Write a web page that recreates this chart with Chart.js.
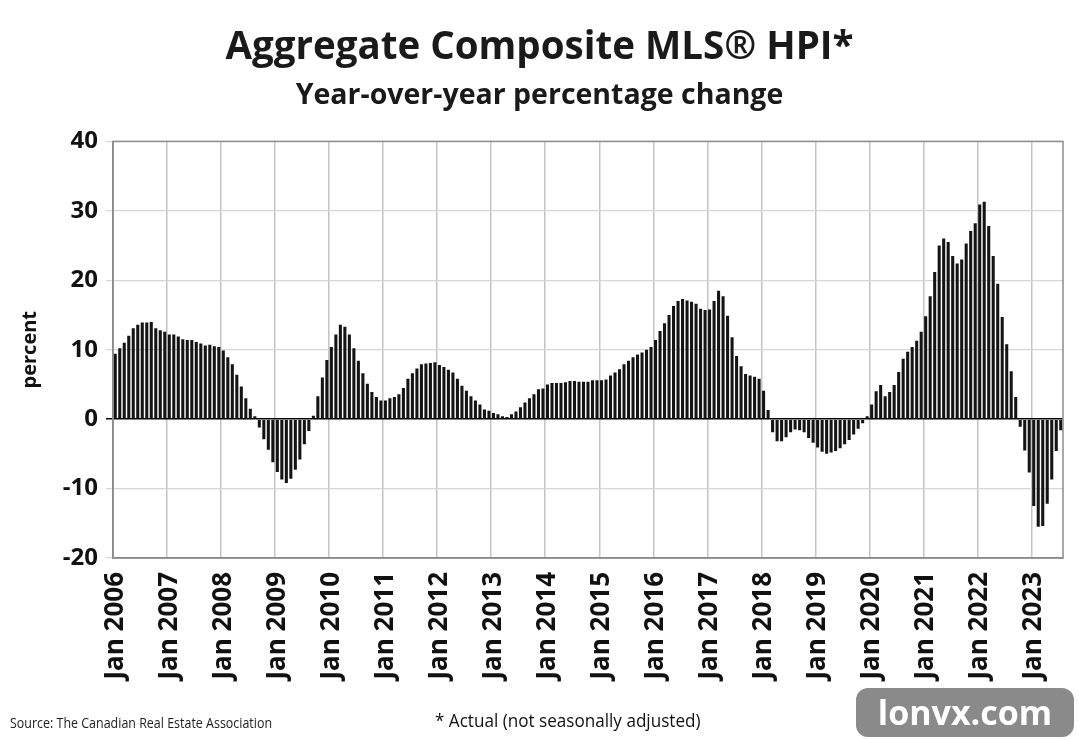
<!DOCTYPE html>
<html>
<head>
<meta charset="utf-8">
<script src="https://cdn.jsdelivr.net/npm/chart.js@4.4.1/dist/chart.umd.min.js"></script>
<style>
  html, body { margin: 0; padding: 0; background: #fff; }
  #wrap { position: relative; width: 1079px; height: 740px; }
  #source { position: absolute; left: 10px; top: 713px; font: 14px "Open Sans", "Noto Sans", sans-serif; color: #222;
            transform: scaleX(0.89); transform-origin: left top; white-space: nowrap; }
  #note { position: absolute; left: 435px; top: 707px; font: 19px "Open Sans", "Noto Sans", sans-serif; color: #111;
          transform: scaleX(0.9); transform-origin: left top; white-space: nowrap; }
  #mark { position: absolute; left: 856px; top: 688px; width: 218px; height: 49px; border-radius: 12px;
          background: #8a8a8a; color: #fff; font: bold 34px "Open Sans", sans-serif;
          text-align: center; line-height: 49px; }
</style>
</head>
<body>
<div id="wrap">
  <canvas id="hpi_chart"></canvas>
  <div id="source">Source: The Canadian Real Estate Association</div>
  <div id="note">* Actual (not seasonally adjusted)</div>
  <div id="mark">lonvx.com</div>
</div>
<script>
// year-over-year % change, monthly, Jan 2006 - Jul 2023
var years = [2006, 2007, 2008, 2009, 2010, 2011, 2012, 2013, 2014, 2015, 2016, 2017, 2018, 2019, 2020, 2021, 2022, 2023];
var months = ["Jan", "Feb", "Mar", "Apr", "May", "Jun", "Jul", "Aug", "Sep", "Oct", "Nov", "Dec"];

var y2006 = [9.4, 10.2, 11.0, 12.0, 13.1, 13.6, 13.9, 13.9, 14.0, 13.1, 12.8, 12.6];
var y2007 = [12.2, 12.2, 11.9, 11.5, 11.4, 11.4, 11.1, 10.9, 10.6, 10.7, 10.5, 10.4];
var y2008 = [9.9, 8.9, 7.9, 6.4, 4.7, 3.0, 1.5, 0.4, -1.2, -2.9, -4.4, -6.2];
var y2009 = [-7.6, -8.7, -9.2, -8.6, -7.3, -5.8, -3.6, -1.7, 0.5, 3.3, 6.0, 8.5];
var y2010 = [10.4, 12.2, 13.6, 13.3, 12.2, 10.2, 8.4, 6.6, 5.1, 3.9, 3.2, 2.7];
var y2011 = [2.7, 3.0, 3.2, 3.6, 4.5, 5.8, 6.6, 7.3, 7.9, 8.0, 8.1, 8.2];
var y2012 = [7.8, 7.5, 7.1, 6.7, 5.8, 4.8, 4.1, 3.3, 2.7, 2.1, 1.4, 1.2];
var y2013 = [0.9, 0.7, 0.4, 0.3, 0.7, 1.1, 1.7, 2.4, 3.0, 3.6, 4.3, 4.4];
var y2014 = [5.0, 5.2, 5.2, 5.2, 5.3, 5.5, 5.5, 5.4, 5.4, 5.4, 5.6, 5.6];
var y2015 = [5.6, 5.7, 6.3, 6.7, 7.2, 7.9, 8.4, 8.9, 9.3, 9.6, 10.0, 10.4];
var y2016 = [11.4, 12.7, 13.8, 15.0, 16.3, 17.0, 17.3, 17.1, 16.9, 16.6, 15.9, 15.7];
var y2017 = [15.8, 17.0, 18.5, 17.7, 14.9, 11.8, 9.1, 7.6, 6.5, 6.3, 6.1, 5.8];
var y2018 = [4.1, 1.3, -1.9, -3.2, -3.2, -2.6, -1.9, -1.5, -1.6, -1.9, -2.7, -3.4];
var y2019 = [-4.1, -4.7, -5.0, -4.8, -4.6, -4.2, -3.6, -3.0, -2.2, -1.4, -0.6, 0.4];
var y2020 = [2.1, 4.0, 4.9, 3.3, 3.9, 4.9, 6.8, 8.7, 9.7, 10.4, 11.3, 12.6];
var y2021 = [14.8, 17.7, 21.2, 25.0, 26.0, 25.5, 23.5, 22.4, 23.0, 25.3, 27.1, 28.2];
var y2022 = [30.9, 31.3, 27.8, 23.5, 19.5, 14.7, 10.8, 6.9, 3.2, -1.1, -4.5, -7.7];
var y2023 = [-12.5, -15.5, -15.4, -12.2, -8.7, -4.6, -1.6];

var yTicks = [-20, -10, 0, 10, 20, 30, 40];

var values = [].concat(y2006, y2007, y2008, y2009, y2010, y2011, y2012, y2013, y2014,
    y2015, y2016, y2017, y2018, y2019, y2020, y2021, y2022, y2023);

var labels = [];
for (var i = 0; i < values.length; i++) {
    labels.push(months[i % 12] + " " + years[Math.floor(i / 12)]);
}

// draw the box round the plot area
var frame = {
    id: 'frame',
    afterDraw: function (chart) {
        var a = chart.chartArea, ctx = chart.ctx;
        ctx.save();
        ctx.strokeStyle = '#8c8c8c';
        ctx.lineWidth = 1.5;
        ctx.strokeRect(a.left, a.top, a.right - a.left, a.bottom - a.top);
        ctx.restore();
    }
};

Chart.defaults.font.family = '"Open Sans", "Noto Sans", sans-serif';
Chart.defaults.color = '#111';

new Chart(document.getElementById("hpi_chart").getContext("2d"), {
    type: 'bar',
    data: {
        labels: labels,
        datasets: [{
            data: values,
            backgroundColor: '#141414',
            borderWidth: 0,
            barPercentage: 0.68,
            categoryPercentage: 1.0
        }]
    },
    options: {
        responsive: true,
        maintainAspectRatio: false,
        animation: false,
        layout: { padding: { left: 16, right: 16, top: 0, bottom: 50 } },
        plugins: {
            legend: { display: false },
            tooltip: { enabled: false },
            title: {
                display: true,
                text: 'Aggregate Composite MLS® HPI*',
                color: '#1a1a1a',
                font: { size: 38.5, weight: 'bold' },
                padding: { top: 25, bottom: 2 }
            },
            subtitle: {
                display: true,
                text: 'Year-over-year percentage change',
                color: '#1a1a1a',
                font: { size: 28.5, weight: 'bold' },
                padding: { top: 6, bottom: 28 }
            }
        },
        scales: {
            x: {
                grid: {
                    offset: true,
                    drawTicks: false,
                    color: function (c) { return c.index % 12 === 0 ? '#c4c4c4' : 'rgba(0,0,0,0)'; },
                    lineWidth: 1.5
                },
                border: { color: '#8c8c8c', width: 1.5 },
                ticks: {
                    autoSkip: false,
                    minRotation: 90,
                    maxRotation: 90,
                    padding: 14,
                    font: { size: 26, weight: 'bold' },
                    callback: function (v, i) { return i % 12 === 0 ? labels[i] : ''; }
                },
                afterFit: function (s) { s.height = 132; s.paddingLeft = 0; s.paddingRight = 0; }
            },
            y: {
                min: -20,
                max: 40,
                afterBuildTicks: function (s) { s.ticks = yTicks.map(function (v) { return { value: v }; }); },
                grid: {
                    color: function (c) { return c.tick && c.tick.value === 0 ? '#000' : '#d6d6d6'; },
                    lineWidth: function (c) { return c.tick && c.tick.value === 0 ? 1.5 : 1.2; },
                    tickLength: 7
                },
                border: { color: '#8c8c8c', width: 1.5 },
                ticks: {
                    padding: 8,
                    font: { size: 24, weight: 'bold' }
                },
                title: {
                    display: true,
                    text: 'percent',
                    font: { size: 20, weight: 'bold' },
                    padding: { top: 2, bottom: 0 }
                },
                afterFit: function (s) { s.width = 97; }
            }
        }
    },
    plugins: [frame]
});
</script>
</body>
</html>
